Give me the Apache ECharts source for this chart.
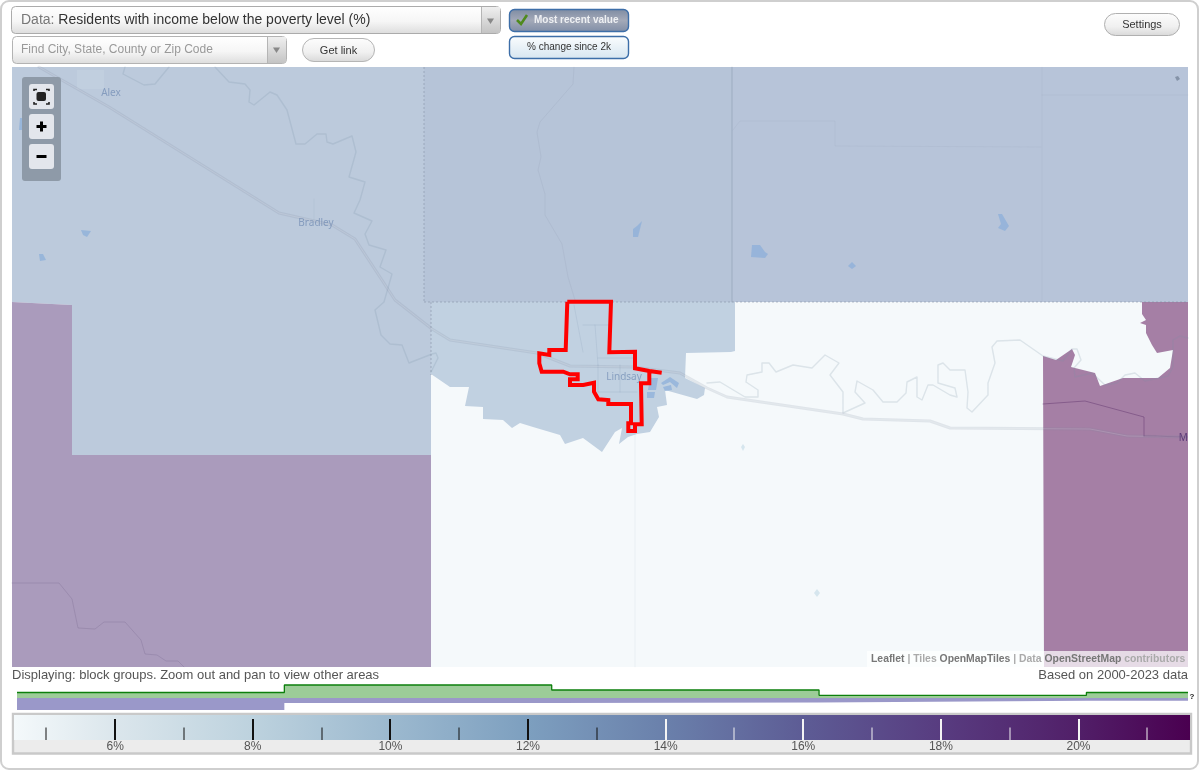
<!DOCTYPE html>
<html><head><meta charset="utf-8">
<style>html,body{margin:0;padding:0;background:#fff}#c{width:1200px;height:771px}</style>
<script src="https://cdn.jsdelivr.net/npm/echarts@6/dist/echarts.min.js"></script>
</head><body><div id="c"></div>
<script>
// ---- map geography ----
const regionWest=[[12,67],[424,67],[424,302],[431,302],[431,455],[72,455],[72,305],[12,302]];
const regionNorthMid=[[424,67],[732,67],[732,302],[424,302]];
const regionNorthEast=[[732,67],[1188,67],[1188,302],[732,302]];
const regionSouthWest=[[12,302],[72,305],[72,455],[431,455],[431,667],[12,667]];
const regionEast=[[1044,667],[1043,356],[1056,360],[1072,349],[1075,355],[1071,367],[1095,373],[1100,386],[1123,378],[1158,378],[1170,368],[1173,350],[1157,353],[1152,345],[1146,333],[1146,325],[1140,323],[1146,320],[1142,314],[1142,302],[1188,302],[1188,667]];
const regionLindsay=[[431,302],[735,302],[735,351],[731,352],[686,353],[685,378],[705,388],[704,395],[697,399],[665,390],[667,405],[657,407],[659,417],[650,432],[637,434],[628,437],[619,444],[622,428],[615,432],[602,452],[583,438],[565,444],[560,435],[533,427],[520,423],[512,428],[503,420],[483,419],[483,407],[465,406],[469,387],[450,387],[431,374]];
const lakes=[
 [[633,237],[633,229],[637,226],[642,221],[638,237]],
 [[751,257],[752,245],[760,245],[765,252],[768,254],[765,258]],
 [[848,266],[852,262],[856,266],[852,269]],
 [[998,214],[1002,214],[1009,226],[1005,231],[998,228],[1001,224]],
 [[20,118],[26,118],[24,130],[19,130]],
 [[81,230],[91,231],[87,237],[83,235]],
 [[39,254],[43,254],[46,260],[40,261]],
 [[650,378],[658,378],[656,390],[648,390]],
 [[647,392],[655,392],[654,398],[647,398]],
 [[661,383],[670,377],[679,383],[677,388],[670,382],[663,385]],
 [[663,387],[671,385],[672,390],[665,391]]
];
const paleLakes=[[[743,444],[745,447],[743,451],[741,447]],[[817,589],[820,593],[817,597],[814,593]]];
const riverWest=[[215,67],[229,82],[245,84],[250,90],[249,102],[254,105],[270,92],[277,95],[287,110],[296,144],[305,144],[317,134],[326,134],[327,142],[333,144],[352,136],[356,152],[349,177],[365,182],[360,200],[354,213],[372,221],[365,234],[369,245],[386,250],[380,267],[392,274],[384,302],[375,310],[381,335],[390,344],[402,345],[409,363],[432,354],[436,353],[438,358],[431,372]];
const riverAlex=[[125,67],[123,74],[144,85],[155,84],[169,67]];
const riverEast=[[707,383],[720,382],[745,397],[758,397],[758,390],[746,382],[747,375],[762,372],[762,363],[769,363],[776,372],[793,365],[812,368],[825,355],[839,363],[830,375],[843,392],[843,413],[865,403],[855,392],[857,381],[873,390],[883,402],[897,402],[906,393],[907,382],[917,377],[917,397],[922,400],[928,385],[933,385],[950,395],[957,397],[955,388],[938,383],[938,365],[943,363],[950,370],[965,370],[968,392],[967,408],[972,412],[988,395],[988,383],[995,363],[992,347],[997,341],[1020,340],[1043,356],[1063,361],[1072,349],[1077,349],[1081,360],[1074,368],[1075,377],[1092,373],[1105,385],[1117,383],[1125,375],[1135,373],[1145,381],[1168,376],[1173,367],[1173,340],[1180,336],[1188,338]];
const riverNorth=[[574,67],[573,84],[540,122],[537,132],[541,157],[538,170],[545,194],[545,215],[562,244],[568,277],[575,300]];
const riverSouthWest=[[12,583],[59,583],[72,599],[78,628],[95,629],[104,622],[125,622],[141,640],[145,654],[157,655],[166,661],[178,661],[184,667]];
const highway=[[39,67],[109,107],[279,213],[332,225],[355,239],[395,300],[432,329],[450,340],[537,353],[570,366],[633,367],[680,373],[707,388],[727,397],[843,414],[863,419],[930,421],[950,428],[1090,429],[1127,436],[1188,437]];
const streets=[[[583,325],[610,325]],[[595,325],[598,365]],[[598,358],[633,358]],[[598,365],[598,392]],[[620,365],[620,392]],[[598,392],[637,392]],[[574,305],[583,352]]];
const boundariesFaint=[
 [[733,130],[740,121],[835,121],[835,146],[1041,147]],
 [[1042,67],[1042,301]],[[1042,95],[1188,95]],
 [[635,432],[635,667]],[[314,199],[314,220]]
];
const boundaryEast=[[[1043,404],[1085,401],[1144,417],[1144,436]],[[1144,436],[1188,437]]];
const stateLine=[[732,67],[732,302]];
const countyDash=[[[424,67],[424,302]],[[424,302],[1188,302]],[[431,302],[431,375]]];
const cityLimits=[[567.3,301.7],[611,301.7],[609.3,352.3],[635,351.7],[635,368.3],[649.3,371],[661.7,372.7],[649.3,371],[649.3,383.3],[641,383.3],[641.7,424.3],[635,424.3],[635,431],[628.3,431],[628.3,423.3],[631,423.3],[631,404],[608.3,404],[608.3,400],[598.3,399.3],[594,391.7],[594,382.7],[583.3,385],[570,385],[570,379.3],[577.7,379.3],[577.7,374.3],[570,374.3],[563.3,371.7],[541.7,371.7],[539.3,363.3],[539.3,353.3],[549.3,355],[549.3,350],[565.7,350],[567.3,301.7]];
const places=[["Alex",111,93,"rgba(88,118,165,.55)"],["Bradley",316,223,"rgba(88,118,165,.55)"],["Lindsay",624,377,"rgba(88,118,165,.55)"],["Ma",1186,438,"#5c3a78"]];
// ---- histogram strips ----
const binEdges=[0,1,2,3,4,4.38];
const peerShare=[5.5,13,8,2.7,5.5,5.5];
const stateShare=[-12,-5,-4.5,-2.7,-2.7,-2.7];
// ---- colour scale legend ----
const scaleMin=4.53, scaleMax=21.62;
const majorTicks=[6,8,10,12,14,16,18,20];
const minorTicks=[5,7,9,11,13,15,17,19,21];
const scaleStops=[[4.53,"#f4f9fb"],[6,"#dbe6ec"],[8,"#bdd2de"],[10,"#9cb9cf"],[12,"#7d9fbf"],[14,"#6a80ab"],[16,"#5d5c95"],[18,"#583c80"],[20,"#511f68"],[21.62,"#4a0050"]];

const chart=echarts.init(document.getElementById('c'),null,{renderer:'canvas'});
const FONT='"Liberation Sans",Arial,sans-serif';
function poly(name,pts,fill,z){
  return {name,type:'custom',coordinateSystem:'cartesian2d',xAxisIndex:0,yAxisIndex:0,silent:true,z:z||2,clip:true,
    data:pts,renderItem(p,api){
      if(p.dataIndex!==pts.length-1)return null;
      return {type:'polygon',shape:{points:pts.map(q=>api.coord(q))},style:{fill:fill}};
    }};
}
function line(name,pts,color,width,z,extra){
  return {name,type:'line',xAxisIndex:0,yAxisIndex:0,silent:true,showSymbol:false,symbol:'none',z:z||3,data:pts,
    lineStyle:Object.assign({color,width,cap:'round',join:'round'},extra||{})};
}
const series=[
 poly('NW',regionWest,'#bccadc'),poly('NM',regionNorthMid,'#b6c4d8'),poly('NE',regionNorthEast,'#b7c4d9'),
 poly('SW',regionSouthWest,'#aa9bbc'),poly('E',regionEast,'#a57fa5'),poly('Lindsay',regionLindsay,'#c1d1e1'),
];
lakes.forEach((l,i)=>series.push(poly('lake'+i,l,'rgba(140,175,218,.75)',3)));
paleLakes.forEach((l,i)=>series.push(poly('plake'+i,l,'#d6e6ee',3)));
series.push(poly('townAlex',[[77,70],[104,70],[104,89],[77,89]],'rgba(200,212,226,.45)',3));
series.push(poly('dot',[[1175,77],[1178,76],[1180,79],[1177,81]],'rgba(120,135,155,.8)',3));
[riverWest,riverAlex,riverEast].forEach((r,i)=>series.push(line('river'+i,r,'rgba(120,145,165,.2)',1.4,4)));
series.push(line('riverN',riverNorth,'rgba(120,135,160,.12)',1,4));
series.push(line('riverSW',riverSouthWest,'rgba(95,80,120,.2)',1,4));
streets.forEach((s,i)=>series.push(line('st'+i,s,'rgba(130,150,175,.18)',1,4)));
boundariesFaint.forEach((s,i)=>series.push(line('bf'+i,s,'rgba(120,135,160,.09)',1,4)));
boundaryEast.forEach((s,i)=>series.push(line('be'+i,s,'rgba(85,40,100,.4)',1,4)));
series.push(line('state',stateLine,'rgba(110,125,150,.35)',1,4));
series.push(line('road',highway,'rgba(125,140,160,.18)',3,5));
series.push(line('roadCore',highway,'rgba(255,255,255,.14)',1,5));
countyDash.forEach((s,i)=>series.push(line('dash'+i,s,'rgba(125,135,155,.5)',1,6,{type:[2,2],cap:'butt'})));
series.push(line('city',cityLimits,'#ff0000',4,8,{join:'miter',cap:'butt'}));
series.push({name:'places',type:'custom',xAxisIndex:0,yAxisIndex:0,silent:true,z:7,clip:true,data:places.map(p=>[p[1],p[2]]),
  renderItem(p,api){const q=places[p.dataIndex],c=api.coord([q[1],q[2]]);
    return {type:'text',style:{x:c[0],y:c[1],text:q[0],fill:q[3],font:'10px "Noto Sans",'+FONT,align:'center',verticalAlign:'middle'}};}});
// histogram
series.push({name:'Peers',type:'line',xAxisIndex:1,yAxisIndex:1,step:'end',silent:true,symbol:'none',showSymbol:false,z:3,
  data:binEdges.map((x,i)=>[x,peerShare[i]]),lineStyle:{color:'#0c7f0c',width:1.3},areaStyle:{color:'#9ccc98',opacity:1,origin:0}});
series.push({name:'State',type:'line',xAxisIndex:1,yAxisIndex:1,step:'end',silent:true,symbol:'none',showSymbol:false,z:3,
  data:binEdges.map((x,i)=>[x,stateShare[i]]),lineStyle:{width:0},areaStyle:{color:'#9a98c9',opacity:1,origin:0}});
// legend gradient
series.push({name:'scale',type:'custom',xAxisIndex:2,yAxisIndex:2,silent:true,z:3,data:[[scaleMin,0,scaleMax,1]],
  renderItem(p,api){const a=api.coord([scaleMin,1]),b=api.coord([scaleMax,0]);
    return {type:'rect',shape:{x:a[0],y:a[1],width:b[0]-a[0],height:b[1]-a[1]},
      style:{fill:new echarts.graphic.LinearGradient(0,0,1,0,scaleStops.map(s=>({offset:(s[0]-scaleMin)/(scaleMax-scaleMin),color:s[1]})))}};}});
function tickSeries(name,vals,h,w){
  return {name,type:'custom',xAxisIndex:2,yAxisIndex:2,silent:true,z:4,data:vals.map(v=>[v,h]),
    renderItem(p,api){const v=api.value(0),a=api.coord([v,api.value(1)]),b=api.coord([v,0]);
      return {type:'rect',shape:{x:Math.round(a[0])-w/2,y:a[1],width:w,height:b[1]-a[1]},style:{fill:v>=14?'#f4f4f4':'#111'}};}};
}
series.push(tickSeries('major',majorTicks,0.84,2));
series.push(tickSeries('minor',minorTicks,0.5,1));

// ---- page furniture ----
const gray=new echarts.graphic.LinearGradient(0,0,0,1,[{offset:0,color:'#ffffff'},{offset:.55,color:'#f6f6f6'},{offset:1,color:'#dcdcdc'}]);
const arrow=new echarts.graphic.LinearGradient(0,0,0,1,[{offset:0,color:'#efefef'},{offset:1,color:'#c4c4c4'}]);
const pill=new echarts.graphic.LinearGradient(0,0,0,1,[{offset:0,color:'#fdfdfd'},{offset:.6,color:'#f0f0f0'},{offset:1,color:'#d8d8d8'}]);
const on=new echarts.graphic.LinearGradient(0,0,0,1,[{offset:0,color:'#7d8ba2'},{offset:.5,color:'#a3a9b8'},{offset:1,color:'#7f8da6'}]);
const off=new echarts.graphic.LinearGradient(0,0,0,1,[{offset:0,color:'#fbfdfe'},{offset:1,color:'#d6e5f0'}]);
const R=(x,y,w,h,fill,stroke,r,z,lw)=>({type:'rect',shape:{x,y,width:w,height:h,r:r||0},style:{fill:fill||'none',stroke:stroke||null,lineWidth:lw===undefined?1:lw},z:z===undefined?100:z,silent:true});
const T=(x,y,text,font,fill,align,z)=>({type:'text',style:{x,y,text,font:font+' '+FONT,fill,align:align||'left',verticalAlign:'middle'},z:z||101,silent:true});
const TRI=(cx,cy,c)=>({type:'polygon',shape:{points:[[cx-3.5,cy-2.5],[cx+3.5,cy-2.5],[cx,cy+3]]},style:{fill:c||'#888'},z:102,silent:true});
const PL=(pts,stroke,lw,z)=>({type:'polyline',shape:{points:pts},style:{stroke,lineWidth:lw,fill:null},z:z||103,silent:true});
const graphic=[
 R(1,1,1197,768,'none','#cfcfcf',8,0,2),
 R(1188,428,9,20,'#fff',null,0,50),
 // data selector
 R(11.5,6.5,489,27,gray,'#ababab',4),
 R(481,7,19,26,arrow,null,0),{type:'line',shape:{x1:481.5,y1:7,x2:481.5,y2:33},style:{stroke:'#b5b5b5'},z:101,silent:true},
 TRI(490.5,21),
 {type:'text',style:{x:21,y:20,text:'{a|Data: }{b|Residents with income below the poverty level (%)}',rich:{a:{fill:'#777',font:'14px '+FONT},b:{fill:'#333',font:'14px '+FONT}},verticalAlign:'middle'},z:101,silent:true},
 // search
 R(12.5,36.5,274,27,gray,'#b3b3b3',4),
 R(267,37,19,26,arrow,null,0),{type:'line',shape:{x1:267.5,y1:37,x2:267.5,y2:63},style:{stroke:'#b5b5b5'},z:101,silent:true},
 TRI(276.5,50),
 T(21,50,'Find City, State, County or Zip Code','12px','#999'),
 R(302.5,38.5,72,23,pill,'#b5b5b5',11.5),T(338.5,50.5,'Get link','11px','#333','center'),
 R(1104.5,13.5,75,22,pill,'#b0b0b0',11),T(1142,24.5,'Settings','11px','#333','center'),
 // toggles
 R(509.5,9.5,119,22,on,'#3d6ea8',5,100,1.4),
 PL([[517,20],[521,24],[527,15]],'#4f8a1d',2.6),
 T(534,20,'Most recent value','bold 10px','#eef0f3'),
 R(509.5,36.5,119,22,off,'#3d6ea8',5,100,1.4),
 T(569,47,'% change since 2k','10px','#333','center'),
 // zoom controls
 R(22,77,39,104,'#8e9aa8',null,3),
 R(29,84,25,25,'#e3e6ec',null,3),R(29,114,25,25,'#e3e6ec',null,3),R(29,144,25,25,'#e3e6ec',null,3),
 R(36.5,92,9.5,9,'#222',null,2,102),
 PL([[34,91],[34,89.5],[37,89.5]],'#222',1.6),PL([[46,89.5],[49,89.5],[49,91]],'#222',1.6),
 PL([[34,102],[34,104],[37,104]],'#222',1.6),PL([[46,104],[49,104],[49,102]],'#222',1.6),
 R(36.5,125,10,3,'#000',null,0,102),R(40,121.5,3,10,'#000',null,0,102),
 R(36.5,155,10,3,'#000',null,0,102),
 // attribution
 R(867,651,321,16,'rgba(255,255,255,.72)',null,0,90),
 {type:'text',style:{x:871,y:659.5,text:'{d|Leaflet}{l| | Tiles }{d|OpenMapTiles}{l| | Data }{d|OpenStreetMap}{l| contributors}',
   rich:{d:{fill:'#777',font:'bold 10.4px '+FONT},l:{fill:'#aaa',font:'bold 10.4px '+FONT}},verticalAlign:'middle'},z:101,silent:true},
 // captions
 T(12,675,'Displaying: block groups. Zoom out and pan to view other areas','13px','#555'),
 T(1188,675,'Based on 2000-2023 data','13px','#555','right'),
 T(1192,696.5,'?','bold 8px','#222','center'),
 // legend frame
 R(13,714,1178,39.5,'#ececec','#c9c9c9',0,1,2.4),
];
chart.setOption({
 animation:false,backgroundColor:'#fff',
 graphic:{elements:graphic},
 grid:[
  {left:12,top:67,width:1176,height:600,show:true,backgroundColor:'#f5f9fb',borderWidth:0},
  {left:17,top:680,width:1171,height:32,borderWidth:0},
  {left:14,top:715,width:1176,height:25,borderWidth:0}
 ],
 xAxis:[
  {type:'value',gridIndex:0,min:12,max:1188,show:false},
  {type:'value',gridIndex:1,min:0,max:4.38,show:false},
  {type:'value',gridIndex:2,min:scaleMin,max:scaleMax,z:20,splitLine:{show:false},axisLine:{show:false},axisTick:{show:false},
   axisLabel:{customValues:majorTicks,formatter:'{value}%',color:'#555',fontSize:12,fontFamily:'"Liberation Sans",Arial,sans-serif',margin:1,hideOverlap:false}}
 ],
 yAxis:[
  {type:'value',gridIndex:0,min:67,max:667,inverse:true,show:false},
  {type:'value',gridIndex:1,min:-14,max:18,show:false},
  {type:'value',gridIndex:2,min:0,max:1,show:false}
 ],
 series
});
</script></body></html>
